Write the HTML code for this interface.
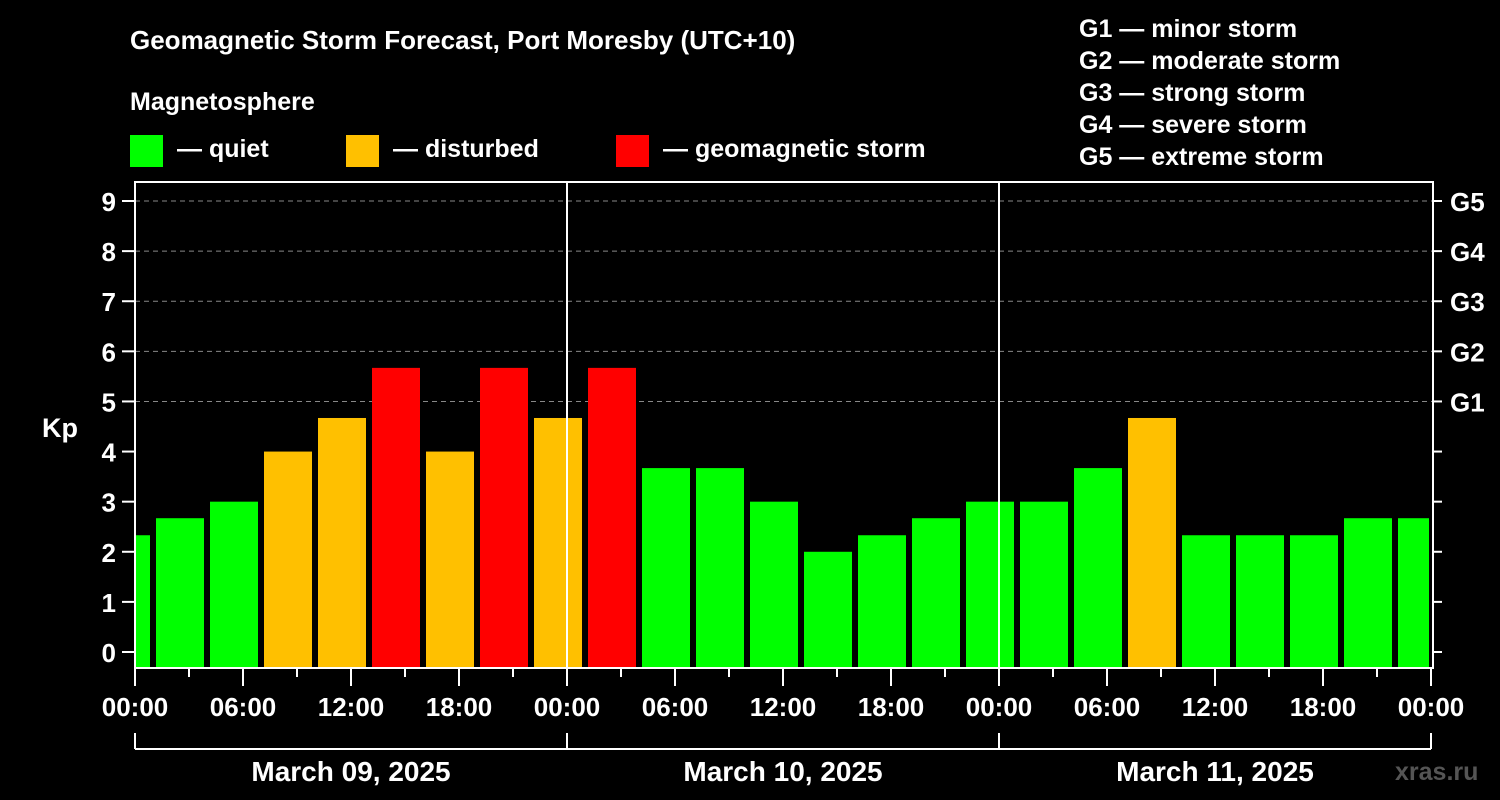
<!DOCTYPE html>
<html><head><meta charset="utf-8"><style>
body{margin:0;background:#000;}
svg{display:block;font-family:"Liberation Sans",Arial,sans-serif;font-weight:bold;}
</style></head><body>
<svg id="c" width="1500" height="800" xmlns="http://www.w3.org/2000/svg">
<rect width="1500" height="800" fill="#000"/>
<text x="130" y="49" fill="#fff" font-size="26">Geomagnetic Storm Forecast, Port Moresby (UTC+10)</text>
<text x="130" y="110" fill="#fff" font-size="25">Magnetosphere</text>
<g><rect x="130" y="135" width="33" height="32" fill="#00ff00"/><text x="177" y="157" fill="#fff" font-size="25">— quiet</text></g>
<g><rect x="346" y="135" width="33" height="32" fill="#ffc000"/><text x="393" y="157" fill="#fff" font-size="25">— disturbed</text></g>
<g><rect x="616" y="135" width="33" height="32" fill="#ff0000"/><text x="663" y="157" fill="#fff" font-size="25">— geomagnetic storm</text></g>
<g fill="#fff" font-size="25">
<text x="1079" y="37">G1 — minor storm</text>
<text x="1079" y="69">G2 — moderate storm</text>
<text x="1079" y="101">G3 — strong storm</text>
<text x="1079" y="133">G4 — severe storm</text>
<text x="1079" y="165">G5 — extreme storm</text>
</g>
<text x="42" y="437" fill="#fff" font-size="27">Kp</text>
<text x="1395" y="780" fill="#555" font-size="25">xras.ru</text>
<g id="grid"></g><g id="bars"></g><g id="axes"></g>
</svg>
<script>
const kpValues=[2.33,2.67,3,4,4.67,5.67,4,5.67,4.67,5.67,3.67,3.67,3,2,2.33,2.67,3,3,3.67,4.67,2.33,2.33,2.33,2.67,2.67];
const slotStartHours=[-2,1,4,7,10,13,16,19,22,25,28,31,34,37,40,43,46,49,52,55,58,61,64,67,70];
const yTicks=[0,1,2,3,4,5,6,7,8,9];
const gLabels=["G1","G2","G3","G4","G5"];
const gLevels=[5,6,7,8,9];
const xTickLabels=["00:00","06:00","12:00","18:00","00:00","06:00","12:00","18:00","00:00","06:00","12:00","18:00","00:00"];
const dayLabels=["March 09, 2025","March 10, 2025","March 11, 2025"];
const NS="http://www.w3.org/2000/svg";
const L=135,R=1433,T=182,B=668;
const x=h=>L+h*18;
const y=v=>652-v*50.11;
function mk(tag,attrs,parent,text){const e=document.createElementNS(NS,tag);for(const k in attrs)e.setAttribute(k,attrs[k]);if(text!==undefined)e.textContent=text;document.getElementById(parent).appendChild(e);return e;}
function col(v){return v>=5?"#ff0000":v>=4?"#ffc000":"#00ff00";}
gLevels.forEach((g,i)=>{
 const l=mk("line",{x1:L,x2:R,y1:y(g),y2:y(g),stroke:"#888","stroke-dasharray":"5,4","stroke-width":1},"grid");
 
 
 const t=mk("text",{x:1450,y:y(g)+10,fill:"#fff","font-size":26},"axes",gLabels[i]);
 
 
});
kpValues.forEach((v,i)=>{
 let x0=x(slotStartHours[i])+3,x1=x(slotStartHours[i]+3)-3;
 x0=Math.max(x0,L+1);x1=Math.min(x1,R-4);
 const r=mk("rect",{x:x0,y:y(v),width:x1-x0,height:B-y(v),fill:col(v)},"bars");
 
 
});
mk("rect",{x:L,y:T,width:R-L,height:B-T,fill:"none",stroke:"#fff","stroke-width":2},"axes");
[1,2].forEach(d=>{const l=mk("line",{x1:x(d*24),x2:x(d*24),y1:T,y2:B,stroke:"#fff","stroke-width":2},"axes");
 
 });
yTicks.forEach(v=>{
 mk("line",{x1:122,x2:L,y1:y(v),y2:y(v),stroke:"#fff","stroke-width":2},"axes");
 mk("line",{x1:R,x2:1442,y1:y(v),y2:y(v),stroke:"#fff","stroke-width":2},"axes");
 const t=mk("text",{x:116,y:y(v)+10,fill:"#fff","font-size":26,"text-anchor":"end"},"axes",String(v));
 
 
});
for(let h=0;h<=72;h+=3){mk("line",{x1:x(h),x2:x(h),y1:B,y2:h%6?677:686,stroke:"#fff","stroke-width":2},"axes");}
xTickLabels.forEach((s,i)=>{
 const t=mk("text",{x:x(i*6),y:716,fill:"#fff","font-size":26,"text-anchor":"middle"},"axes",s);
 
 
});
mk("line",{x1:x(0),x2:x(72),y1:749,y2:749,stroke:"#fff","stroke-width":2},"axes");
for(let d=0;d<=3;d++)mk("line",{x1:x(d*24),x2:x(d*24),y1:733,y2:749,stroke:"#fff","stroke-width":2},"axes");
dayLabels.forEach((s,i)=>{
 const t=mk("text",{x:x(i*24+12),y:781,fill:"#fff","font-size":28,"text-anchor":"middle"},"axes",s);
 
 
});
</script>
</body></html>
